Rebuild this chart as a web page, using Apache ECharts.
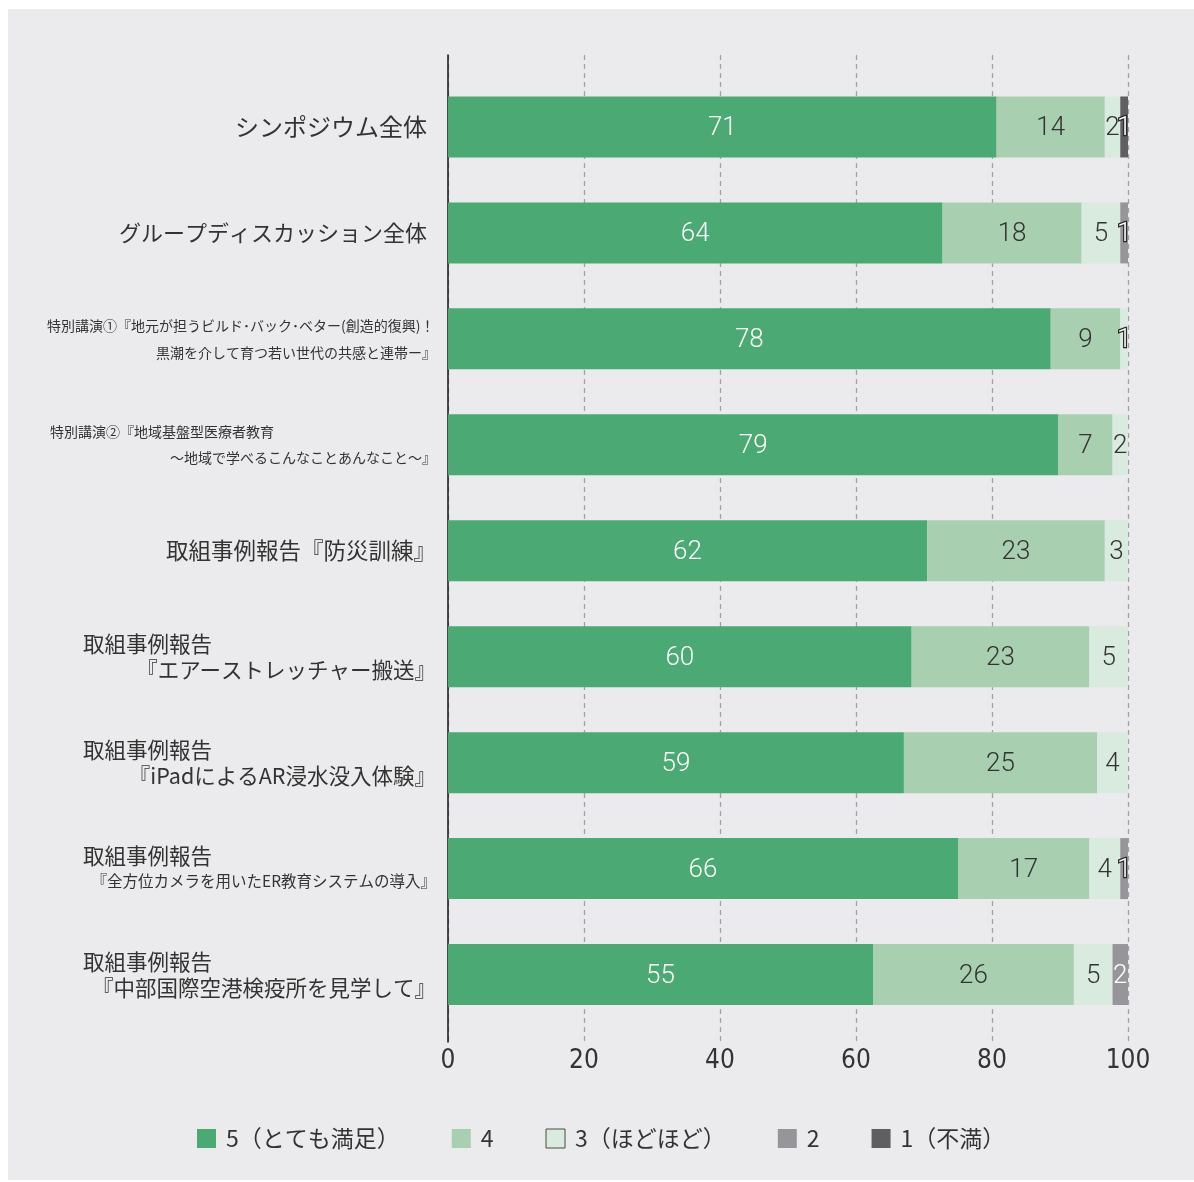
<!DOCTYPE html>
<html>
<head>
<meta charset="utf-8">
<title>満足度</title>
<script src="https://cdn.jsdelivr.net/npm/echarts@6/dist/echarts.min.js"></script>
<style>
  html, body { margin: 0; padding: 0; background: #ffffff; }
  #panel { position: absolute; left: 8px; top: 9px; width: 1186px; height: 1171px; background: #ebebed; }
  #chart { position: absolute; left: 0; top: 0; width: 1194px; height: 1182px; }
</style>
</head>
<body>
<div id="panel"></div>
<div id="chart"></div>
<script>
// Session names (line breaks as printed)
const categories = [
  'シンポジウム全体',
  'グループディスカッション全体',
  '特別講演①『地元が担うビルド･バック･ベター(創造的復興)！\n黒潮を介して育つ若い世代の共感と連帯ー』',
  '特別講演②『地域基盤型医療者教育\n～地域で学べるこんなことあんなこと～』',
  '取組事例報告『防災訓練』',
  '取組事例報告\n『エアーストレッチャー搬送』',
  '取組事例報告\n『iPadによるAR浸水没入体験』',
  '取組事例報告\n『全方位カメラを用いたER教育システムの導入』',
  '取組事例報告\n『中部国際空港検疫所を見学して』'
];

// Rating levels, 5 (best) to 1
const levelNames = ['5（とても満足）', '4', '3（ほどほど）', '2', '1（不満）'];

// Number of respondents per rating, in session order
const level5 = [71, 64, 78, 79, 62, 60, 59, 66, 55];
const level4 = [14, 18, 9, 7, 23, 23, 25, 17, 26];
const level3 = [2, 5, 1, 2, 3, 5, 4, 4, 5];
const level2 = [0, 1, 0, 0, 0, 0, 0, 1, 2];
const level1 = [1, 0, 0, 0, 0, 0, 0, 0, 0];

// Percentage axis ticks
const percentTicks = [0, 20, 40, 60, 80, 100];

const levels = [level5, level4, level3, level2, level1];
const rowTotals = categories.map((_, i) => levels.reduce((s, arr) => s + arr[i], 0));
const fullScale = Math.max(...rowTotals);

const colors = ['#4ba974', '#a9cfb1', '#d9eadf', '#96969a', '#5f5f62'];
const labelColors = ['#ffffff', '#333333', '#333333', '#ffffff', '#ffffff'];

const CJK = '"Noto Sans CJK JP", "Noto Sans", sans-serif';
const NUM = 'Roboto, "Noto Sans", sans-serif';
const NARROW = '"Liberation Sans Narrow", "DejaVu Sans Condensed", "Liberation Sans", sans-serif';

// Which label layout each session name uses
const labelLayout = ['big', 'big2', 'lecture1', 'lecture2', 'single', 'report', 'report', 'reportNarrow', 'report'];

function formatCategory(value, idx) {
  const lines = String(value).split('\n');
  switch (labelLayout[idx]) {
    case 'big': return '{big|' + lines[0] + '}';
    case 'big2': return '{big2|' + lines[0] + '}';
    case 'single': return '{single|' + lines[0] + '}';
    case 'lecture1': return '{lecL|' + lines[0] + '}\n{lecR|' + lines[1] + '}';
    case 'lecture2': return '{lecL2|' + lines[0] + '}\n{lecR|' + lines[1] + '}';
    case 'report': return '{head|' + lines[0] + '}\n{mid|' + lines[1] + '}';
    case 'reportNarrow': return '{head|' + lines[0] + '}\n{nar|' + lines[1] + '}';
  }
  return value;
}

const txt = '#333333';

const series = levels.map((arr, k) => ({
  type: 'bar',
  name: levelNames[k],
  stack: 'total',
  xAxisIndex: 1,
  yAxisIndex: 1,
  barWidth: 61,
  itemStyle: { color: colors[k] },
  label: {
    show: true,
    position: 'inside',
    offset: [0, 2],
    color: labelColors[k],
    fontFamily: NUM,
    fontWeight: 300,
    fontSize: 26,
    formatter: p => (p.value ? String(p.value) : '')
  },
  emphasis: { disabled: true },
  data: arr.map(v => v === 1
    ? { value: v, label: { color: '#ffffff', textBorderColor: '#2a2a2a', textBorderWidth: 2.5 } }
    : v)
}));

const chart = echarts.init(document.getElementById('chart'), null, { renderer: 'canvas' });
chart.setOption({
  animation: false,
  backgroundColor: 'transparent',
  grid: [
    { left: 448, right: 66, top: 55, bottom: 140 },
    { left: 448, right: 66, top: 74, bottom: 154.5 }
  ],
  legend: {
    left: 197,
    top: 1127,
    padding: 0,
    icon: 'rect',
    itemWidth: 19,
    itemHeight: 19,
    itemGap: 52,
    selectedMode: false,
    textStyle: { fontSize: 23, color: txt, fontFamily: CJK, lineHeight: 20, padding: [0, 0, 0, 5] },
    data: levelNames.map((n, i) => i === 2
      ? { name: n, itemStyle: { borderColor: '#4a4a4a', borderWidth: 1 } }
      : { name: n })
  },
  xAxis: [
    {
      gridIndex: 0,
      type: 'value',
      min: percentTicks[0],
      max: percentTicks[percentTicks.length - 1],
      interval: percentTicks[1] - percentTicks[0],
      axisLine: { show: false },
      axisTick: { show: false },
      splitLine: { show: true, lineStyle: { color: '#a2a2a6', width: 1.3, type: [5, 4] } },
      axisLabel: { fontSize: 26, color: txt, fontFamily: NARROW, margin: 6 }
    },
    {
      gridIndex: 1,
      type: 'value',
      min: 0,
      max: fullScale,
      show: false
    }
  ],
  yAxis: [
    {
      gridIndex: 0,
      type: 'value',
      min: 0,
      max: 1,
      axisLine: { show: true, lineStyle: { color: '#222222', width: 1.6 } },
      axisTick: { show: false },
      axisLabel: { show: false },
      splitLine: { show: false }
    },
    {
      gridIndex: 1,
      type: 'category',
      inverse: true,
      data: categories,
      axisLine: { show: false },
      axisTick: { show: false },
      axisLabel: {
        margin: 12,
        width: 389,
        overflow: 'none',
        color: txt,
        fontFamily: CJK,
        formatter: formatCategory,
        rich: {
          big: { fontSize: 24, fontFamily: CJK, color: txt, align: 'right', padding: [0, 9, 0, 0] },
          big2: { fontSize: 22, fontFamily: CJK, color: txt, align: 'right', padding: [0, 9, 0, 0] },
          single: { fontSize: 22.5, fontFamily: CJK, color: txt, align: 'right' },
          mid: { fontSize: 21.5, fontFamily: CJK, color: txt, align: 'right', lineHeight: 26 },
          nar: { fontSize: 15.5, fontFamily: CJK, color: txt, align: 'right', lineHeight: 26 },
          head: { fontSize: 21.5, fontFamily: CJK, color: txt, align: 'left', lineHeight: 26, padding: [0, 0, 0, 36] },
          lecL: { fontSize: 14, fontFamily: CJK, color: txt, align: 'left', lineHeight: 27 },
          lecL2: { fontSize: 14, fontFamily: CJK, color: txt, align: 'left', lineHeight: 26, padding: [0, 0, 0, 3] },
          lecR: { fontSize: 14, fontFamily: CJK, color: txt, align: 'right', lineHeight: 27 }
        }
      }
    }
  ],
  series: series
});
</script>
</body>
</html>
